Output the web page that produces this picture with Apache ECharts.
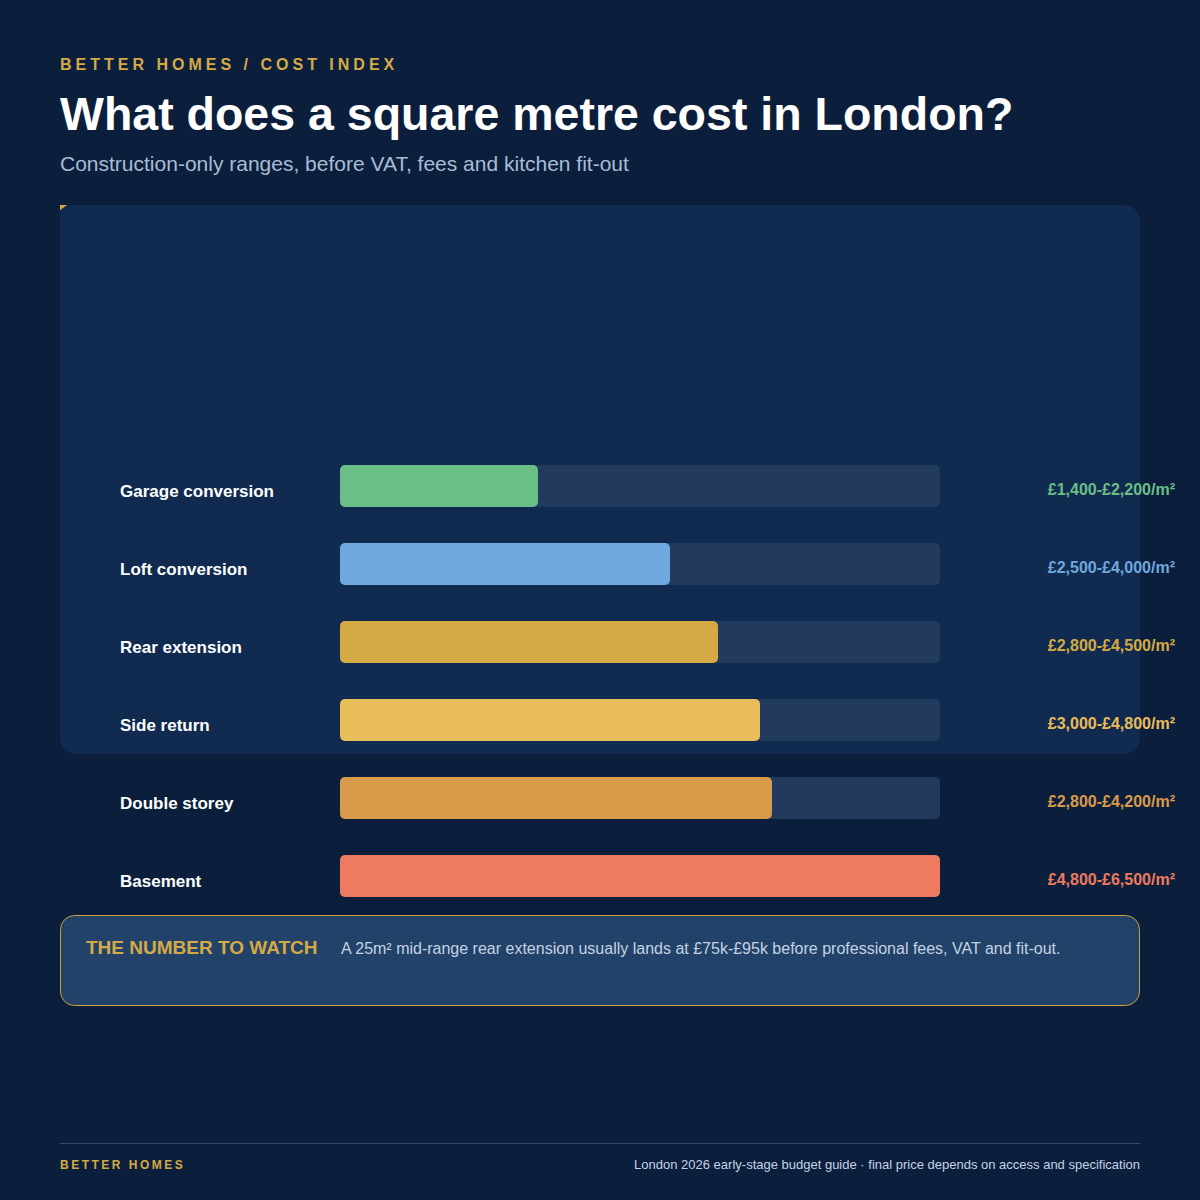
<!DOCTYPE html>
<html>
<head>
<meta charset="utf-8">
<script src="https://cdn.jsdelivr.net/npm/echarts@6/dist/echarts.min.js"></script>
<style>
html,body{margin:0;padding:0;background:#0b1f3d;}
#chart{width:1200px;height:1200px;}
</style>
</head>
<body>
<div id="chart"></div>
<script>
// ---- data ----
const categories = ['Garage conversion','Loft conversion','Rear extension','Side return','Double storey','Basement'];
const barIndex = [33, 55, 63, 70, 72, 100];
const rangeLabels = ['£1,400-£2,200/m²','£2,500-£4,000/m²','£2,800-£4,500/m²','£3,000-£4,800/m²','£2,800-£4,200/m²','£4,800-£6,500/m²'];
const barColors = ['#6abf86','#6fa8dc','#d4aa45','#e8bd5a','#d99a4a','#ee7a5f'];
const trackMax = 100;

const FONT = '"Liberation Sans", Arial, Helvetica, sans-serif';
const chart = echarts.init(document.getElementById('chart'), null, {renderer:'svg'});

const option = {
  backgroundColor:'#0b1f3d',
  animation:false,
  grid:{left:340, right:260, top:447, bottom:285, containLabel:false},
  xAxis:{type:'value', min:0, max:trackMax, show:false},
  yAxis:{type:'category', data:categories, inverse:true,
     axisLine:{show:false}, axisTick:{show:false}, splitLine:{show:false},
     axisLabel:{align:'left', verticalAlign:'top', lineHeight:10, margin:220, color:'#ffffff', fontWeight:'bold', fontSize:17, fontFamily:FONT}},
  graphic:[
    // panel
    {type:'rect', z:-10, shape:{x:60,y:205,width:1080,height:549,r:[0,16,16,16]}, style:{fill:'#112a4f'}},
    {type:'polygon', z:-9, shape:{points:[[60,205],[67,205],[63,208],[60,210]]}, style:{fill:'#d4aa45'}},
    // header
    {type:'text', left:60, top:56, style:{text:'BETTER HOMES / COST INDEX', fill:'#d4aa45', font:'bold 16px '+FONT}},
    {type:'text', left:60, top:90, style:{text:'What does a square metre cost in London?', fill:'#ffffff', font:'bold 46.5px '+FONT}},
    {type:'text', left:60, top:153, style:{text:'Construction-only ranges, before VAT, fees and kitchen fit-out', fill:'#a9bcd4', font:'21px '+FONT}},
    // callout
    {type:'rect', z:-10, shape:{x:60.5,y:915.5,width:1079,height:90,r:14}, style:{fill:'#22426a', stroke:'#c9a13f', lineWidth:1}},
    {type:'text', left:86, top:938, style:{text:'THE NUMBER TO WATCH', fill:'#d4aa45', font:'bold 19px '+FONT}},
    {type:'text', left:341, top:940, style:{text:'A 25m² mid-range rear extension usually lands at £75k-£95k before professional fees, VAT and fit-out.', fill:'#c5d2e3', font:'16px '+FONT}},
    // footer
    {type:'line', shape:{x1:60,y1:1143.5,x2:1140,y2:1143.5}, style:{stroke:'#34496a', lineWidth:1}},
    {type:'text', left:60, top:1159, style:{text:'BETTER HOMES', fill:'#d4aa45', font:'bold 12px '+FONT}},
    {type:'text', right:60, top:1158, style:{text:'London 2026 early-stage budget guide · final price depends on access and specification', fill:'#c5d2e3', font:'13px '+FONT}}
  ],
  series:[
    {type:'bar', name:'track',
     data:categories.map((c,i)=>({value:trackMax, label:{color:barColors[i]}})),
     barWidth:42, barGap:'-100%',
     itemStyle:{color:'#223a5e', borderRadius:5}, silent:true, z:1,
     label:{show:true, position:[835, 24], align:'right', verticalAlign:'middle',
       fontWeight:'bold', fontSize:16, fontFamily:FONT,
       formatter:(p)=>rangeLabels[p.dataIndex]}},
    {type:'bar', name:'index', data:barIndex.map((v,i)=>({value:v, itemStyle:{color:barColors[i]}})),
     barWidth:42, itemStyle:{borderRadius:5}, z:2}
  ]
};
chart.setOption(option);

// letter-spaced eyebrow texts (SVG renderer keeps the text whole)
const spacing = {'BETTER HOMES / COST INDEX':'4px','BETTER HOMES':'2.5px'};
function applySpacing(){
  document.querySelectorAll('#chart svg text').forEach(t=>{
    const s = spacing[t.textContent];
    if (s) t.style.letterSpacing = s;
  });
}
chart.on('finished', applySpacing);
applySpacing();
</script>
</body>
</html>
